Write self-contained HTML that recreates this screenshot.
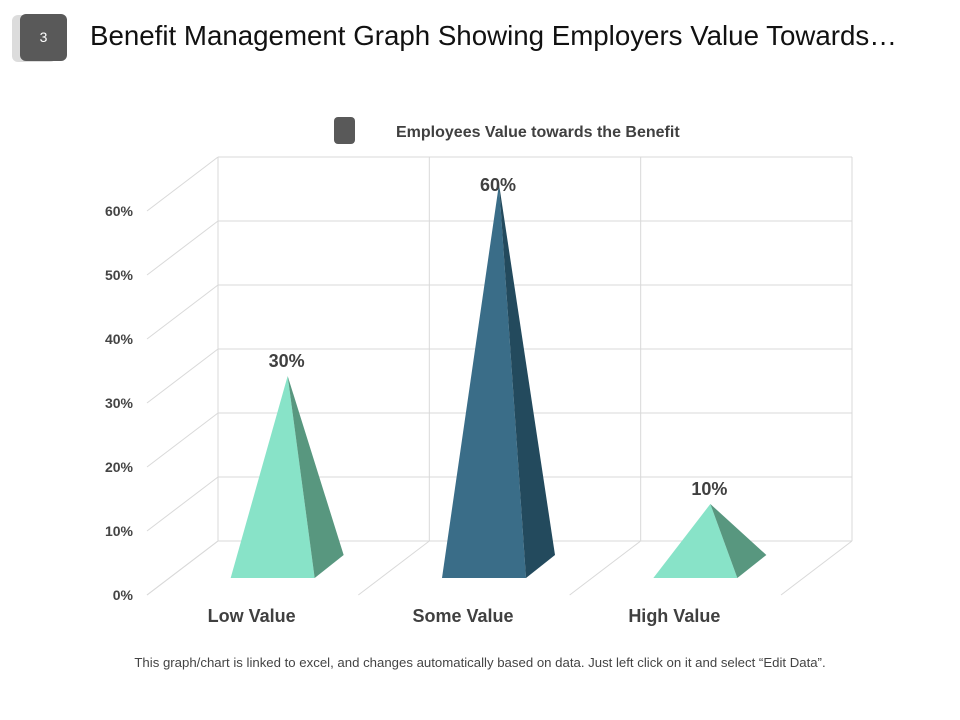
<!DOCTYPE html>
<html><head><meta charset="utf-8"><style>
body{margin:0;background:#fff;font-family:"Liberation Sans",Arial,sans-serif;}
#wrap{position:relative;width:960px;height:720px;overflow:hidden;}
</style></head><body>
<div id="wrap">
<div style="position:absolute;left:12px;top:15px;width:44px;height:47px;background:#dcdcdc;border-radius:6px;"></div>
<div style="position:absolute;left:20px;top:14px;width:47px;height:47px;background:#595959;border-radius:6px;color:#fff;font-size:14px;line-height:47px;text-align:center;">3</div>
<div style="position:absolute;left:90px;top:20px;font-size:27.7px;color:#111;white-space:nowrap;">Benefit Management Graph Showing Employers Value Towards…</div>
<svg id="chart" width="960" height="720" style="position:absolute;left:0;top:0"></svg>
<div style="position:absolute;left:0;width:960px;top:655px;text-align:center;font-size:13.2px;color:#444;">This graph/chart is linked to excel, and changes automatically based on data. Just left click on it and select “Edit Data”.</div>
</div>
<script>
const categories=["Low Value","Some Value","High Value"];
const values=[30,60,10];
const tickLabels=["0%","10%","20%","30%","40%","50%","60%"];
const tickValues=[0,10,20,30,40,50,60];
const colors=[["#88e3c8","#58977f"],["#3a6d88","#234a5d"],["#88e3c8","#58977f"]];

const NS="http://www.w3.org/2000/svg";
const svg=document.getElementById('chart');
const backX0=218,backX1=852,backY0=541,pxPer=6.4,dx=-71,dy=54;
const yBack=v=>backY0-v*pxPer;
const yMid=v=>backY0+27-v*pxPer;
const slot=(backX1-backX0)/categories.length;
const cx=i=>backX0+slot*(i+0.5)-36;
function mk(tag,attrs){const e=document.createElementNS(NS,tag);for(const k in attrs)e.setAttribute(k,attrs[k]);svg.appendChild(e);return e;}
const grid="#d9d9d9";
tickValues.forEach((t,j)=>{
  const y=yBack(t);
  const g=mk('line',{x1:backX0,x2:backX1,y1:y,y2:y,stroke:grid,'stroke-width':1});
  
  
  const d=mk('line',{x1:backX0,y1:y,x2:backX0+dx,y2:y+dy,stroke:grid,'stroke-width':1});
  
  
  const tx=mk('text',{x:133,y:y+dy+5,'text-anchor':'end','font-size':14,'font-weight':'bold',fill:'#444'});
  tx.textContent=tickLabels[j];
  
  
});
for(let i=0;i<=categories.length;i++){
  const x=backX0+slot*i;
  const v=mk('line',{x1:x,x2:x,y1:yBack(tickValues[tickValues.length-1]),y2:backY0,stroke:grid,'stroke-width':1});
  
  
  const f=mk('line',{x1:x,y1:backY0,x2:x+dx,y2:backY0+dy,stroke:grid,'stroke-width':1});
  
  
}
values.forEach((v,i)=>{
  const c=cx(i),ay=yMid(v);
  const front=mk('polygon',{points:`${c-57},578 ${c+27},578 ${c},${ay}`,fill:colors[i][0]});
  
  
  const side=mk('polygon',{points:`${c+27},578 ${c+56},555 ${c},${ay}`,fill:colors[i][1]});
  
  
  const lab=mk('text',{x:c-1,y:Math.max(ay-9,191),'text-anchor':'middle','font-size':18,'font-weight':'bold',fill:'#404040'});
  lab.textContent=v+'%';
  
  
  const cl=mk('text',{x:c-36,y:622,'text-anchor':'middle','font-size':18,'font-weight':'bold',fill:'#404040'});
  cl.textContent=categories[i];
  
  
});
const lk=mk('rect',{x:334,y:117,width:21,height:27,rx:4,fill:'#595959'});


const lt=mk('text',{x:396,y:137,'font-size':16,'font-weight':'bold',fill:'#404040'});
lt.textContent='Employees Value towards the Benefit';


</script>
</body></html>
